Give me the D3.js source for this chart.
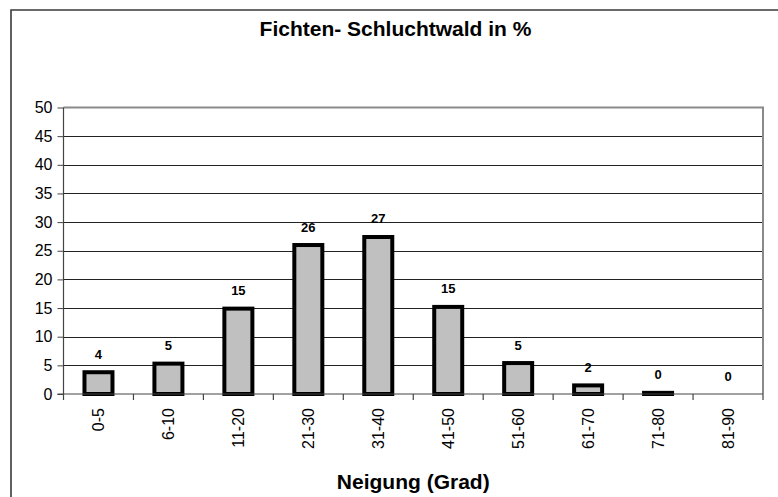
<!DOCTYPE html>
<html>
<head>
<meta charset="utf-8">
<script src="https://cdn.jsdelivr.net/npm/d3@7"></script>
<style>
  html, body { margin: 0; padding: 0; background: #fff; }
  svg { display: block; font-family: Arial, "Liberation Sans", sans-serif; }
</style>
</head>
<body>
<svg id="chart" width="778" height="497"></svg>
<script>
// ---- data ----
const title = "Fichten- Schluchtwald in %";
const xTitle = "Neigung (Grad)";
const categories = ["0-5", "6-10", "11-20", "21-30", "31-40", "41-50", "51-60", "61-70", "71-80", "81-90"];
const values = [3.8, 5.3, 14.9, 26.0, 27.4, 15.2, 5.4, 1.5, 0.2, 0];
const yTicks = [0, 5, 10, 15, 20, 25, 30, 35, 40, 45, 50];

// ---- layout ----
const svg = d3.select("#chart");
const plot = { left: 63.5, right: 763, top: 107.5, bottom: 394 };

const x = d3.scaleBand().domain(categories).range([plot.left, plot.right]).paddingInner(0).paddingOuter(0);
const y = d3.scaleLinear().domain([0, 50]).range([plot.bottom, plot.top]);

// outer chart frame
svg.append("path")
  .attr("d", `M11,500 L11,10 L790,10`)
  .attr("fill", "none").attr("stroke", "#3a3a3a").attr("stroke-width", 1.6);

// title
svg.append("text")
  .attr("x", 395.5).attr("y", 36)
  .attr("text-anchor", "middle")
  .attr("font-weight", "bold").attr("font-size", 21)
  .text(title);

// gridlines
svg.append("g").selectAll("line")
  .data(yTicks.filter(d => d > 0 && d < 50))
  .join("line")
  .attr("x1", plot.left).attr("x2", plot.right)
  .attr("y1", d => Math.round(y(d)) + 0.5).attr("y2", d => Math.round(y(d)) + 0.5)
  .attr("stroke", "#222").attr("stroke-width", 1);

// plot border top / right (gray)
svg.append("path")
  .attr("d", `M${plot.left},${y(50)} L${plot.right},${y(50)} L${plot.right},${plot.bottom}`)
  .attr("fill", "none").attr("stroke", "#8a8a8a").attr("stroke-width", 2);

// bars
const barW = 28;
svg.append("g").selectAll("rect")
  .data(values.map((v, i) => ({ c: categories[i], v })))
  .join("rect")
  .attr("x", d => x(d.c) + x.bandwidth() / 2 - barW / 2)
  .attr("y", d => y(d.v))
  .attr("width", barW)
  .attr("height", d => Math.max(0, y(0) - y(d.v)))
  .attr("fill", "#c0c0c0")
  .attr("stroke", "#000")
  .attr("stroke-width", d => d.v > 0 ? 4 : 0);

// y axis
const yAxis = d3.axisLeft(y).tickValues(yTicks).tickSize(6).tickPadding(5).tickFormat(d3.format("d"));
const gy = svg.append("g").attr("transform", `translate(${plot.left},0)`).call(yAxis);
gy.select(".domain").attr("stroke", "#444").attr("stroke-width", 1.2).attr("d", `M-6,${plot.bottom}H0V${plot.top}`);
gy.selectAll(".tick line").attr("stroke", "#444");
gy.selectAll(".tick text").attr("font-size", 16).attr("font-family", "Arial, 'Liberation Sans', sans-serif").attr("fill", "#000");

// x axis (ticks at category boundaries)
const gx = svg.append("g").attr("transform", `translate(0,${plot.bottom})`);
gx.append("line").attr("x1", plot.left).attr("x2", plot.right).attr("y1", 0).attr("y2", 0)
  .attr("stroke", "#444").attr("stroke-width", 1.2);
const bounds = categories.map(c => x(c)).concat([x(categories[categories.length - 1]) + x.bandwidth()]);
gx.selectAll("line.tk").data(bounds).join("line").attr("class", "tk")
  .attr("x1", d => d).attr("x2", d => d).attr("y1", 0).attr("y2", 6)
  .attr("stroke", "#444").attr("stroke-width", 1.2);
gx.selectAll("text").data(categories).join("text")
  .attr("transform", d => `translate(${x(d) + x.bandwidth() / 2 + 5.5},14) rotate(-90)`)
  .attr("text-anchor", "end")
  .attr("font-size", 16)
  .text(d => d);

// data labels
svg.append("g").selectAll("text")
  .data(values.map((v, i) => ({ c: categories[i], v })))
  .join("text")
  .attr("x", d => x(d.c) + x.bandwidth() / 2)
  .attr("y", d => y(d.v) - 13.5)
  .attr("text-anchor", "middle")
  .attr("font-weight", "bold").attr("font-size", 13)
  .text(d => d3.format(".0f")(d.v));

// x axis title
svg.append("text")
  .attr("x", (plot.left + plot.right) / 2).attr("y", 489)
  .attr("text-anchor", "middle")
  .attr("font-weight", "bold").attr("font-size", 21)
  .text(xTitle);
</script>
</body>
</html>
